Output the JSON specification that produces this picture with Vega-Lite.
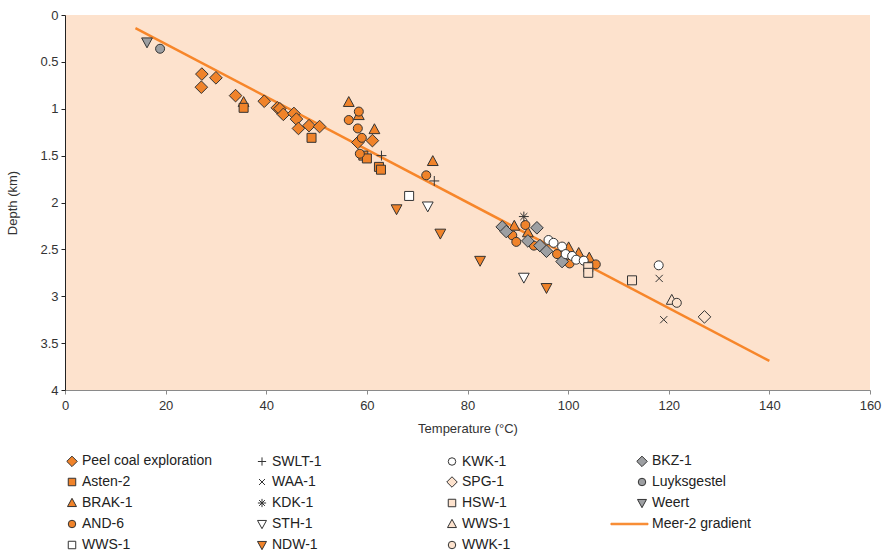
{
  "$schema": "https://vega.github.io/schema/vega-lite/v6.json",
  "width": 805,
  "height": 375,
  "autosize": "none",
  "padding": {"left": 65, "top": 15, "right": 22, "bottom": 161},
  "config": {
    "view": {"fill": "#fde2cd", "stroke": null},
    "font": "Liberation Sans",
    "axis": {"labelFont": "Liberation Sans", "titleFont": "Liberation Sans", "labelFontSize": 13, "titleFontSize": 13, "titleFontWeight": "normal", "labelColor": "#333", "titleColor": "#333", "grid": false, "tickSize": 4, "labelFlush": false}
  },
  "data": {"values": [
    {"series": "Peel coal exploration", "T": 27.2, "d": 0.63},
    {"series": "Peel coal exploration", "T": 30.0, "d": 0.67},
    {"series": "Peel coal exploration", "T": 27.1, "d": 0.77},
    {"series": "Peel coal exploration", "T": 33.9, "d": 0.86},
    {"series": "Peel coal exploration", "T": 39.6, "d": 0.92},
    {"series": "Peel coal exploration", "T": 42.2, "d": 0.99},
    {"series": "Peel coal exploration", "T": 42.7, "d": 1.0},
    {"series": "Peel coal exploration", "T": 43.4, "d": 1.06},
    {"series": "Peel coal exploration", "T": 45.5, "d": 1.05},
    {"series": "Peel coal exploration", "T": 46.0, "d": 1.11},
    {"series": "Peel coal exploration", "T": 46.4, "d": 1.21},
    {"series": "Peel coal exploration", "T": 48.5, "d": 1.18},
    {"series": "Peel coal exploration", "T": 50.6, "d": 1.19},
    {"series": "Peel coal exploration", "T": 58.2, "d": 1.36},
    {"series": "Peel coal exploration", "T": 61.1, "d": 1.34},
    {"series": "BRAK-1", "T": 35.5, "d": 0.93},
    {"series": "BRAK-1", "T": 56.4, "d": 0.93},
    {"series": "BRAK-1", "T": 58.4, "d": 1.07},
    {"series": "BRAK-1", "T": 61.5, "d": 1.22},
    {"series": "BRAK-1", "T": 73.1, "d": 1.56},
    {"series": "BRAK-1", "T": 89.3, "d": 2.25},
    {"series": "BRAK-1", "T": 92.0, "d": 2.32},
    {"series": "BRAK-1", "T": 100.1, "d": 2.48},
    {"series": "BRAK-1", "T": 102.1, "d": 2.54},
    {"series": "BRAK-1", "T": 104.2, "d": 2.59},
    {"series": "Asten-2", "T": 35.5, "d": 0.99},
    {"series": "Asten-2", "T": 49.0, "d": 1.31},
    {"series": "Asten-2", "T": 59.3, "d": 1.5},
    {"series": "Asten-2", "T": 60.0, "d": 1.53},
    {"series": "Asten-2", "T": 62.4, "d": 1.62},
    {"series": "Asten-2", "T": 62.8, "d": 1.65},
    {"series": "AND-6", "T": 58.4, "d": 1.03},
    {"series": "AND-6", "T": 56.4, "d": 1.12},
    {"series": "AND-6", "T": 58.2, "d": 1.21},
    {"series": "AND-6", "T": 59.0, "d": 1.31},
    {"series": "AND-6", "T": 58.6, "d": 1.48},
    {"series": "AND-6", "T": 71.8, "d": 1.71},
    {"series": "AND-6", "T": 91.5, "d": 2.24},
    {"series": "AND-6", "T": 88.9, "d": 2.35},
    {"series": "AND-6", "T": 89.7, "d": 2.42},
    {"series": "AND-6", "T": 93.2, "d": 2.46},
    {"series": "AND-6", "T": 97.8, "d": 2.55},
    {"series": "AND-6", "T": 100.3, "d": 2.65},
    {"series": "AND-6", "T": 105.5, "d": 2.66},
    {"series": "SWLT-1", "T": 62.9, "d": 1.5},
    {"series": "SWLT-1", "T": 73.4, "d": 1.77},
    {"series": "WAA-1", "T": 118.1, "d": 2.81},
    {"series": "WAA-1", "T": 119.0, "d": 3.25},
    {"series": "KDK-1", "T": 91.2, "d": 2.15},
    {"series": "STH-1", "T": 72.1, "d": 2.04},
    {"series": "STH-1", "T": 91.2, "d": 2.8},
    {"series": "NDW-1", "T": 65.9, "d": 2.07},
    {"series": "NDW-1", "T": 74.6, "d": 2.33},
    {"series": "NDW-1", "T": 82.5, "d": 2.62},
    {"series": "NDW-1", "T": 95.7, "d": 2.91},
    {"series": "WWS-1 (sq)", "T": 68.4, "d": 1.93},
    {"series": "BKZ-1", "T": 86.9, "d": 2.26},
    {"series": "BKZ-1", "T": 87.7, "d": 2.31},
    {"series": "BKZ-1", "T": 93.8, "d": 2.27},
    {"series": "BKZ-1", "T": 92.0, "d": 2.41},
    {"series": "BKZ-1", "T": 94.4, "d": 2.46},
    {"series": "BKZ-1", "T": 95.7, "d": 2.52},
    {"series": "BKZ-1", "T": 98.8, "d": 2.63},
    {"series": "KWK-1", "T": 96.1, "d": 2.4},
    {"series": "KWK-1", "T": 97.1, "d": 2.43},
    {"series": "KWK-1", "T": 98.8, "d": 2.47},
    {"series": "KWK-1", "T": 99.5, "d": 2.55},
    {"series": "KWK-1", "T": 100.8, "d": 2.57},
    {"series": "KWK-1", "T": 101.6, "d": 2.61},
    {"series": "KWK-1", "T": 103.1, "d": 2.62},
    {"series": "KWK-1", "T": 118.0, "d": 2.67},
    {"series": "HSW-1", "T": 104.0, "d": 2.69},
    {"series": "HSW-1", "T": 104.0, "d": 2.75},
    {"series": "HSW-1", "T": 112.7, "d": 2.83},
    {"series": "SPG-1", "T": 127.1, "d": 3.22},
    {"series": "WWS-1 (tri)", "T": 120.6, "d": 3.04},
    {"series": "WWK-1", "T": 121.6, "d": 3.07},
    {"series": "Luyksgestel", "T": 18.9, "d": 0.36},
    {"series": "Weert", "T": 16.3, "d": 0.29},
    {"series": "Meer-2 gradient", "T": 14.0, "d": 0.14},
    {"series": "Meer-2 gradient", "T": 140.0, "d": 3.69}
  ]},
  "encoding": {
    "x": {"field": "T", "type": "quantitative", "title": "Temperature (°C)",
      "scale": {"domain": [0, 160], "nice": false},
      "axis": {"values": [0, 20, 40, 60, 80, 100, 120, 140, 160], "domainColor": "#8a8a8a", "tickColor": "#8a8a8a", "labelPadding": 5, "titlePadding": 10}},
    "y": {"field": "d", "type": "quantitative", "title": "Depth (km)",
      "scale": {"domain": [0, 4], "reverse": true, "nice": false},
      "axis": {"values": [0, 0.5, 1, 1.5, 2, 2.5, 3, 3.5, 4], "format": "~g", "domainColor": "#222", "tickColor": "#222", "labelPadding": 3, "titlePadding": 20}}
  },
  "layer": [
    {
      "transform": [{"filter": "datum.series == 'Meer-2 gradient'"}],
      "mark": {"type": "line", "color": "#f7862a", "strokeWidth": 2.5}
    },
    {
      "transform": [{"filter": "datum.series != 'Meer-2 gradient'"}],
      "mark": {"type": "point", "size": 81, "strokeWidth": 1, "opacity": 1},
      "encoding": {
        "shape": {"field": "series", "type": "nominal",
          "scale": {
            "domain": ["Peel coal exploration", "Asten-2", "BRAK-1", "AND-6", "WWS-1 (sq)", "SWLT-1", "WAA-1", "KDK-1", "STH-1", "NDW-1", "KWK-1", "SPG-1", "HSW-1", "WWS-1 (tri)", "WWK-1", "BKZ-1", "Luyksgestel", "Weert", "Meer-2 gradient"],
            "range": ["M0,-1.4L1.4,0L0,1.4L-1.4,0Z", "square", "M0,-1.25L1.2,0.95L-1.2,0.95Z", "circle", "square", "M-1.1,0L1.1,0M0,-1.1L0,1.1", "M-0.8,-0.8L0.8,0.8M-0.8,0.8L0.8,-0.8", "M-1.1,0L1.1,0M0,-1.1L0,1.1M-0.78,-0.78L0.78,0.78M-0.78,0.78L0.78,-0.78", "M0,1.25L1.2,-0.95L-1.2,-0.95Z", "M0,1.25L1.2,-0.95L-1.2,-0.95Z", "circle", "M0,-1.4L1.4,0L0,1.4L-1.4,0Z", "square", "M0,-1.25L1.2,0.95L-1.2,0.95Z", "circle", "M0,-1.4L1.4,0L0,1.4L-1.4,0Z", "circle", "M0,1.25L1.2,-0.95L-1.2,-0.95Z", "M-8.3,-0.2L1.6,-0.2L1.6,0.2L-8.3,0.2Z"]
          },
          "legend": {
            "title": null, "orient": "none", "legendX": 0, "legendY": 439, "columns": 4, "gridAlign": "all", "columnPadding": 16, "rowPadding": 5, "padding": 0,
            "symbolSize": 56, "symbolStrokeWidth": 1, "labelFont": "Liberation Sans", "labelFontSize": 14, "labelColor": "#222", "labelOffset": 3, "labelLimit": 300,
            "labelExpr": "datum.label == 'WWS-1 (sq)' || datum.label == 'WWS-1 (tri)' ? 'WWS-1' : datum.label"
          }
        },
        "fill": {"field": "series", "type": "nominal",
          "scale": {
            "domain": ["Peel coal exploration", "Asten-2", "BRAK-1", "AND-6", "WWS-1 (sq)", "SWLT-1", "WAA-1", "KDK-1", "STH-1", "NDW-1", "KWK-1", "SPG-1", "HSW-1", "WWS-1 (tri)", "WWK-1", "BKZ-1", "Luyksgestel", "Weert", "Meer-2 gradient"],
            "range": ["#f0832a", "#f0832a", "#f0832a", "#f0832a", "#ffffff", "transparent", "transparent", "transparent", "#ffffff", "#f0832a", "#ffffff", "#fde2cd", "#fde2cd", "#fde2cd", "#fde2cd", "#9d9fa2", "#9d9fa2", "#9d9fa2", "#f7862a"]
          }
        },
        "stroke": {"field": "series", "type": "nominal",
          "scale": {
            "domain": ["Peel coal exploration", "Asten-2", "BRAK-1", "AND-6", "WWS-1 (sq)", "SWLT-1", "WAA-1", "KDK-1", "STH-1", "NDW-1", "KWK-1", "SPG-1", "HSW-1", "WWS-1 (tri)", "WWK-1", "BKZ-1", "Luyksgestel", "Weert", "Meer-2 gradient"],
            "range": ["#333333", "#333333", "#333333", "#333333", "#333333", "#333333", "#333333", "#333333", "#333333", "#333333", "#333333", "#333333", "#333333", "#333333", "#333333", "#333333", "#333333", "#333333", "#f7862a"]
          }
        }
      }
    }
  ]
}
